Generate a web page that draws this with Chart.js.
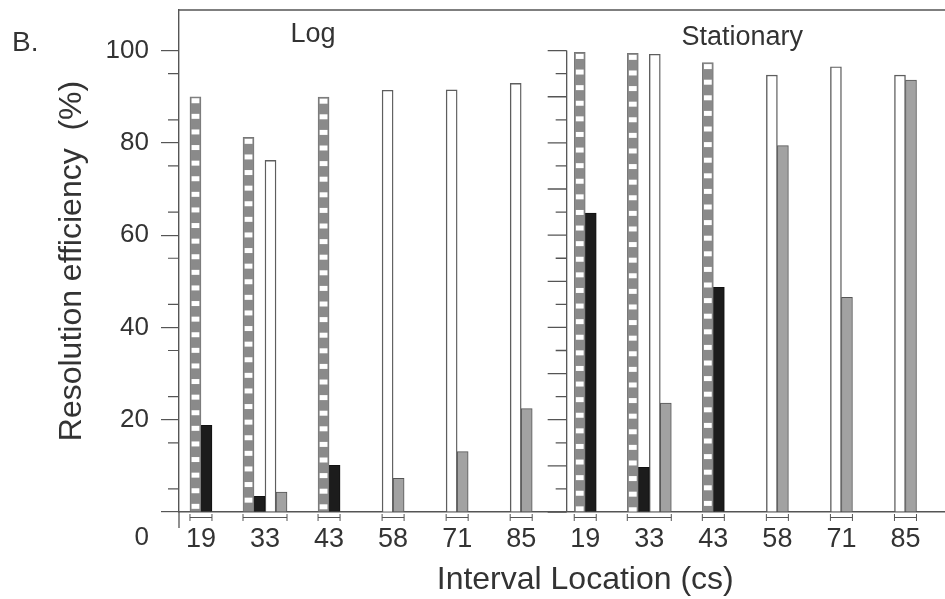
<!DOCTYPE html>
<html><head><meta charset="utf-8">
<script src="https://cdn.jsdelivr.net/npm/chart.js@4/dist/chart.umd.min.js"></script>
<style>html,body{margin:0;padding:0;background:#fff}#wrap{width:945px;height:599px;position:relative}</style>
</head><body><div id="wrap"><canvas id="c" width="945" height="599"></canvas></div>
<script>
// ---------- data ----------
const panelLetter = 'B.';
const panels = ['Log', 'Stationary'];
const categories = ['19', '33', '43', '58', '71', '85'];
const yTitle = 'Resolution efficiency  (%)';
const xTitle = 'Interval Location (cs)';
const yLabelled = [0, 20, 40, 60, 80, 100];
const yMajorTicks = [0, 10, 20, 30, 40, 50, 60, 70, 80, 90, 100];

// Log panel
const stripedLog  = [90.0, 81.2, 89.9, null, null, null];
const blackLog    = [18.8, 3.4, 10.1, null, null, null];
const whiteLog    = [null, 76.2, null, 91.4, 91.5, 92.9];
const grayLog     = [null, 4.3, null, 7.3, 13.1, 22.4];
// Stationary panel
const stripedStat = [99.6, 99.4, 97.4, null, null, null];
const blackStat   = [64.8, 9.7, 48.7, null, null, null];
const whiteStat   = [null, 99.2, null, 94.7, 96.5, 94.7];
const grayStat    = [null, 23.6, null, 79.4, 46.5, 93.6];

// ---------- build ----------
const FONT = "'Liberation Sans', Arial, Helvetica, sans-serif";
const TXT = '#333';
const LINE = '#555';
const allLabels = panels.flatMap(() => categories);
const toPts = (a, b) => [...a, ...b].map((v, i) => ({x: i, y: v}));

const datasets = [
  {label: 'Striped', data: toPts(stripedLog, stripedStat), backgroundColor: '#8a8a8a', borderColor: '#777', borderWidth: 1, striped: true},
  {label: 'Black', data: toPts(blackLog, blackStat), backgroundColor: '#1c1c1c', borderColor: '#111', borderWidth: 1},
  {label: 'White', data: toPts(whiteLog, whiteStat), backgroundColor: '#ffffff', borderColor: '#5e5e5e', borderWidth: 1.4},
  {label: 'Gray', data: toPts(grayLog, grayStat), backgroundColor: '#a2a2a2', borderColor: '#555', borderWidth: 1}
];

const decor = {
  id: 'decor',
  afterDatasetsDraw(chart) {
    const ctx = chart.ctx, ca = chart.chartArea;
    chart.data.datasets.forEach((ds, di) => {
      if (!ds.striped) return;
      const meta = chart.getDatasetMeta(di);
      meta.data.forEach((el, i) => {
        if (ds.data[i].y == null) return;
        const {x, y, base, width} = el.getProps(['x', 'y', 'base', 'width'], true);
        ctx.save();
        ctx.beginPath(); ctx.rect(x - width / 2, y, width, base - y); ctx.clip();
        ctx.fillStyle = '#fff';
        for (let yy = y + 1.5; yy < base - 1; yy += 15.6) ctx.fillRect(x - width / 2 + 1.6, yy, width - 3.2, 5);
        ctx.restore();
      });
    });
    ctx.save();
    ctx.strokeStyle = LINE; ctx.lineWidth = 1;
    const yb = ca.bottom + 5.5;
    allLabels.forEach((lab, i) => {
      let l = Infinity, r = -Infinity;
      chart.data.datasets.forEach((ds, di) => {
        if (ds.data[i].y == null) return;
        const el = chart.getDatasetMeta(di).data[i];
        const {x, width} = el.getProps(['x', 'width'], true);
        l = Math.min(l, x - width / 2); r = Math.max(r, x + width / 2);
      });
      if (!isFinite(l)) return;
      ctx.beginPath();
      ctx.moveTo(l, yb); ctx.lineTo(r, yb);
      ctx.moveTo(l, yb - 3.5); ctx.lineTo(l, yb + 3.5);
      ctx.moveTo(r, yb - 3.5); ctx.lineTo(r, yb + 3.5);
      ctx.stroke();
    });
    ctx.restore();
  },
  afterDraw(chart) {
    const ctx = chart.ctx, ca = chart.chartArea, xs = chart.scales.x, ys = chart.scales.y;
    ctx.save();
    ctx.strokeStyle = LINE; ctx.lineWidth = 1.3;
    ctx.beginPath();
    ctx.moveTo(ca.left, ca.top); ctx.lineTo(ca.right, ca.top);
    ctx.moveTo(ca.left, ca.bottom); ctx.lineTo(ca.left, ca.bottom + 16);
    ctx.stroke();
    ctx.lineWidth = 1.2;
    ctx.beginPath();
    for (let v = 5; v < 100; v += 10) {
      const py = ys.getPixelForValue(v);
      ctx.moveTo(ca.left - 11, py); ctx.lineTo(ca.left, py);
    }
    ctx.stroke();
    const sx = xs.getPixelForValue(5.71);
    ctx.lineWidth = 1.3;
    ctx.beginPath();
    ctx.moveTo(sx, ys.getPixelForValue(100)); ctx.lineTo(sx, ca.bottom);
    for (let v = 0; v <= 100; v += 5) {
      const py = ys.getPixelForValue(v);
      const len = v % 10 === 0 ? 19 : 11;
      ctx.moveTo(sx - len, py); ctx.lineTo(sx, py);
    }
    ctx.stroke();
    ctx.fillStyle = TXT;
    ctx.textBaseline = 'alphabetic';
    ctx.textAlign = 'left';
    ctx.font = '28px ' + FONT;
    ctx.fillText(panelLetter, 12, 51);
    ctx.textAlign = 'center';
    ctx.font = '27px ' + FONT;
    ctx.fillText(panels[0], xs.getPixelForValue(1.75), ys.getPixelForValue(101.8));
    ctx.fillText(panels[1], xs.getPixelForValue(8.45), ys.getPixelForValue(101.2));
    ctx.font = '32px ' + FONT;
    ctx.textBaseline = 'middle';
    ctx.fillText(xTitle, xs.getPixelForValue(6.0), ca.bottom + 68);
    ctx.restore();
  }
};

new Chart(document.getElementById('c'), {
  type: 'bar',
  data: {labels: allLabels, datasets},
  options: {
    responsive: false,
    animation: false,
    devicePixelRatio: 1,
    layout: {padding: {top: 10, left: 0, right: 0, bottom: 0}},
    datasets: {bar: {grouped: true, skipNull: true, barThickness: 11, borderSkipped: 'start'}},
    plugins: {legend: {display: false}, tooltip: {enabled: false}},
    scales: {
      x: {
        type: 'linear',
        offset: false,
        min: -0.343, max: 11.617,
        afterBuildTicks: s => { s.ticks = allLabels.map((l, i) => ({value: i})); },
        afterFit: s => { s.height = 87; s.paddingLeft = 0; s.paddingRight = 0; },
        grid: {display: true, offset: false, drawOnChartArea: false, drawTicks: false, color: 'rgba(0,0,0,0)'},
        border: {display: true, color: LINE, width: 1.4},
        ticks: {
          autoSkip: false, maxRotation: 0, padding: 11,
          color: TXT, font: {size: 27, family: FONT},
          callback: v => allLabels[v]
        }
      },
      y: {
        min: 0, max: 108.8,
        afterBuildTicks: s => { s.ticks = yMajorTicks.map(v => ({value: v})); },
        afterFit: s => { s.width = 179; s.paddingTop = 0; s.paddingBottom = 0; },
        grid: {display: true, drawOnChartArea: false, drawTicks: true, tickLength: 18, color: LINE, lineWidth: 1.2},
        border: {display: true, color: LINE, width: 1.4},
        ticks: {
          padding: 12, color: TXT, font: {size: 26, family: FONT, lineHeight: 1.0},
          callback: v => yLabelled.includes(v) ? (v === 0 ? ['', '', '0'] : String(v)) : ''
        },
        title: {display: true, text: yTitle, color: TXT, font: {size: 32, family: FONT}, padding: {top: 53, bottom: 0}}
      }
    }
  },
  plugins: [decor]
});
</script>
</body></html>
